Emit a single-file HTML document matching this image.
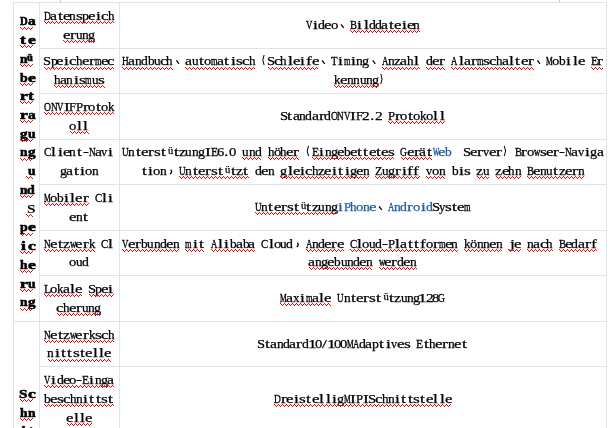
<!DOCTYPE html>
<html><head><meta charset="utf-8"><style>
html,body{margin:0;padding:0;background:#fff}
body{width:614px;height:428px;overflow:hidden;position:relative}
#w{position:absolute;left:0;top:0;width:614px;height:428px;will-change:transform}
.g{position:absolute;background:#dbe5f1}
.L{position:absolute;left:0;top:0;width:614px;height:16px;font-family:"Liberation Serif",serif;font-size:13.5px;line-height:16px;color:#000}
.L i{position:absolute;top:0;font-style:normal;white-space:pre;transform-origin:0 0;-webkit-text-stroke:0.25px currentColor}
.B i{-webkit-text-stroke-width:0.6px}
.B{font-weight:bold;font-size:13.5px}
.bl{color:#245b9c}
.L i.u{font-size:10.53px}
svg{position:absolute;left:0;top:0}
</style></head><body>
<div class="g" style="left:13px;top:2px;width:594px;height:1px"></div>
<div class="g" style="left:39px;top:48px;width:568px;height:1px"></div>
<div class="g" style="left:39px;top:93px;width:568px;height:1px"></div>
<div class="g" style="left:39px;top:139px;width:568px;height:1px"></div>
<div class="g" style="left:39px;top:184px;width:568px;height:1px"></div>
<div class="g" style="left:39px;top:230px;width:568px;height:1px"></div>
<div class="g" style="left:39px;top:275px;width:568px;height:1px"></div>
<div class="g" style="left:39px;top:366px;width:568px;height:1px"></div>
<div class="g" style="left:13px;top:321px;width:594px;height:1px"></div>
<div class="g" style="left:13px;top:2px;width:1px;height:426px"></div>
<div class="g" style="left:39px;top:2px;width:1px;height:426px"></div>
<div class="g" style="left:119px;top:2px;width:1px;height:426px"></div>
<div class="g" style="left:606px;top:2px;width:1px;height:426px"></div>
<div class="g" style="left:60px;top:0px;width:1px;height:2px;background:#c8c8c8"></div>
<div class="g" style="left:559px;top:0px;width:1px;height:2px;background:#c8c8c8"></div>
<div id="w">
<div class="L B" style="top:13px"><i style="left:19.81px;transform:scaleX(0.791)">D</i><i style="left:27.50px;transform:scaleX(1.146)">a</i></div>
<div class="L B" style="top:32px"><i style="left:20.48px;transform:scaleX(1.300)">t</i><i style="left:27.53px;transform:scaleX(1.300)">e</i></div>
<div class="L B" style="top:51px"><i style="left:19.63px;transform:scaleX(1.008)">n</i><i class="u" style="left:26.97px;top:-1.40px">ü</i></div>
<div class="L B" style="top:70px"><i style="left:19.82px;transform:scaleX(1.031)">b</i><i style="left:27.53px;transform:scaleX(1.300)">e</i></div>
<div class="L B" style="top:88px"><i style="left:19.56px;transform:scaleX(1.300)">r</i><i style="left:28.48px;transform:scaleX(1.300)">t</i></div>
<div class="L B" style="top:107px"><i style="left:19.56px;transform:scaleX(1.300)">r</i><i style="left:27.50px;transform:scaleX(1.146)">a</i></div>
<div class="L B" style="top:126px"><i style="left:19.60px;transform:scaleX(1.118)">g</i><i style="left:27.79px;transform:scaleX(1.008)">u</i></div>
<div class="L B" style="top:144px"><i style="left:19.63px;transform:scaleX(1.008)">n</i><i style="left:27.60px;transform:scaleX(1.118)">g</i></div>
<div class="L B" style="top:163px"><i style="left:27.79px;transform:scaleX(1.008)">u</i></div>
<div class="L B" style="top:182px"><i style="left:19.63px;transform:scaleX(1.008)">n</i><i style="left:27.44px;transform:scaleX(1.028)">d</i></div>
<div class="L B" style="top:201px"><i style="left:27.19px;transform:scaleX(1.126);-webkit-text-stroke-width:0.1px">S</i></div>
<div class="L B" style="top:219px"><i style="left:19.82px;transform:scaleX(1.031)">p</i><i style="left:27.53px;transform:scaleX(1.300)">e</i></div>
<div class="L B" style="top:238px"><i style="left:21.00px;transform:scaleX(1.300)">i</i><i style="left:27.52px;transform:scaleX(1.300)">c</i></div>
<div class="L B" style="top:257px"><i style="left:19.66px;transform:scaleX(1.005)">h</i><i style="left:27.53px;transform:scaleX(1.300)">e</i></div>
<div class="L B" style="top:276px"><i style="left:19.56px;transform:scaleX(1.300)">r</i><i style="left:27.79px;transform:scaleX(1.008)">u</i></div>
<div class="L B" style="top:294px"><i style="left:19.63px;transform:scaleX(1.008)">n</i><i style="left:27.60px;transform:scaleX(1.118)">g</i></div>
<div class="L B" style="top:386px"><i style="left:19.19px;transform:scaleX(1.126)">S</i><i style="left:27.52px;transform:scaleX(1.300)">c</i></div>
<div class="L B" style="top:405px"><i style="left:19.66px;transform:scaleX(1.005)">h</i><i style="left:27.63px;transform:scaleX(1.008)">n</i></div>
<div class="L B" style="top:423px"><i style="left:21.00px;transform:scaleX(1.300)">i</i><i style="left:28.48px;transform:scaleX(1.300)">t</i></div>
<div class="L B" style="top:442px"><i style="left:20.48px;transform:scaleX(1.300)">t</i><i style="left:28.03px;transform:scaleX(1.300)">s</i></div>
<div class="L" style="top:8px"><i style="left:44.16px;transform:scaleX(0.703);-webkit-text-stroke-width:0.36px">D</i><i style="left:50.22px;transform:scaleX(1.163)">a</i><i style="left:57.73px;transform:scaleX(1.300)">t</i><i style="left:62.78px;transform:scaleX(1.241)">e</i><i style="left:69.46px;transform:scaleX(0.994)">n</i><i style="left:75.74px;transform:scaleX(1.300)">s</i><i style="left:82.21px;transform:scaleX(1.032)">p</i><i style="left:88.11px;transform:scaleX(1.241)">e</i><i style="left:95.74px;transform:scaleX(1.300)">i</i><i style="left:100.80px;transform:scaleX(1.225)">c</i><i style="left:107.64px;transform:scaleX(0.963)">h</i></div>
<div class="L" style="top:27px"><i style="left:62.78px;transform:scaleX(1.241)">e</i><i style="left:69.85px;transform:scaleX(1.300)">r</i><i style="left:75.93px;transform:scaleX(0.978)">u</i><i style="left:82.13px;transform:scaleX(0.994)">n</i><i style="left:88.16px;transform:scaleX(1.049)">g</i></div>
<div class="L" style="top:53px"><i style="left:43.46px;transform:scaleX(1.075)">S</i><i style="left:50.54px;transform:scaleX(1.032)">p</i><i style="left:56.45px;transform:scaleX(1.241)">e</i><i style="left:64.08px;transform:scaleX(1.300)">i</i><i style="left:69.14px;transform:scaleX(1.225)">c</i><i style="left:75.97px;transform:scaleX(0.963)">h</i><i style="left:81.78px;transform:scaleX(1.241)">e</i><i style="left:88.85px;transform:scaleX(1.300)">r</i><i style="left:94.92px;transform:scaleX(0.620);-webkit-text-stroke-width:0.40px">m</i><i style="left:100.78px;transform:scaleX(1.241)">e</i><i style="left:107.14px;transform:scaleX(1.225)">c</i></div>
<div class="L" style="top:72px"><i style="left:53.81px;transform:scaleX(0.963)">h</i><i style="left:59.71px;transform:scaleX(1.163)">a</i><i style="left:66.29px;transform:scaleX(0.994)">n</i><i style="left:73.58px;transform:scaleX(1.300)">i</i><i style="left:78.91px;transform:scaleX(1.300)">s</i><i style="left:85.42px;transform:scaleX(0.620);-webkit-text-stroke-width:0.40px">m</i><i style="left:91.76px;transform:scaleX(0.978)">u</i><i style="left:97.91px;transform:scaleX(1.300)">s</i></div>
<div class="L" style="top:99px"><i style="left:44.04px;transform:scaleX(0.717);-webkit-text-stroke-width:0.35px">O</i><i style="left:50.50px;transform:scaleX(0.685);-webkit-text-stroke-width:0.36px">N</i><i style="left:57.00px;transform:scaleX(0.656);-webkit-text-stroke-width:0.38px">V</i><i style="left:63.60px;transform:scaleX(1.300)">I</i><i style="left:69.40px;transform:scaleX(0.935)">F</i><i style="left:75.73px;transform:scaleX(0.942)">P</i><i style="left:82.51px;transform:scaleX(1.300)">r</i><i style="left:88.21px;transform:scaleX(1.084)">o</i><i style="left:95.73px;transform:scaleX(1.300)">t</i><i style="left:100.88px;transform:scaleX(1.084)">o</i><i style="left:107.52px;transform:scaleX(0.955)">k</i></div>
<div class="L" style="top:118px"><i style="left:69.21px;transform:scaleX(1.084)">o</i><i style="left:76.76px;transform:scaleX(1.300)">l</i><i style="left:83.10px;transform:scaleX(1.300)">l</i></div>
<div class="L" style="top:144px"><i style="left:43.99px;transform:scaleX(0.805);-webkit-text-stroke-width:0.31px">C</i><i style="left:51.43px;transform:scaleX(1.300)">l</i><i style="left:57.74px;transform:scaleX(1.300)">i</i><i style="left:62.78px;transform:scaleX(1.241)">e</i><i style="left:69.46px;transform:scaleX(0.994)">n</i><i style="left:76.73px;transform:scaleX(1.300)">t</i><i style="left:82.60px;transform:scaleX(1.300)">-</i><i style="left:88.50px;transform:scaleX(0.685);-webkit-text-stroke-width:0.36px">N</i><i style="left:94.55px;transform:scaleX(1.163)">a</i><i style="left:101.43px;transform:scaleX(0.919)">v</i><i style="left:108.41px;transform:scaleX(1.300)">i</i></div>
<div class="L" style="top:163px"><i style="left:59.66px;transform:scaleX(1.049)">g</i><i style="left:66.05px;transform:scaleX(1.163)">a</i><i style="left:73.56px;transform:scaleX(1.300)">t</i><i style="left:79.91px;transform:scaleX(1.300)">i</i><i style="left:85.04px;transform:scaleX(1.084)">o</i><i style="left:91.63px;transform:scaleX(0.994)">n</i></div>
<div class="L" style="top:190px"><i style="left:44.22px;transform:scaleX(0.553);-webkit-text-stroke-width:0.45px">M</i><i style="left:50.21px;transform:scaleX(1.084)">o</i><i style="left:57.10px;transform:scaleX(0.994)">b</i><i style="left:64.08px;transform:scaleX(1.300)">i</i><i style="left:70.43px;transform:scaleX(1.300)">l</i><i style="left:75.45px;transform:scaleX(1.241)">e</i><i style="left:82.51px;transform:scaleX(1.300)">r</i><i style="left:94.65px;transform:scaleX(0.805);-webkit-text-stroke-width:0.31px">C</i><i style="left:102.10px;transform:scaleX(1.300)">l</i><i style="left:108.41px;transform:scaleX(1.300)">i</i></div>
<div class="L" style="top:209px"><i style="left:69.11px;transform:scaleX(1.241)">e</i><i style="left:75.79px;transform:scaleX(0.994)">n</i><i style="left:83.06px;transform:scaleX(1.300)">t</i></div>
<div class="L" style="top:236px"><i style="left:44.17px;transform:scaleX(0.685);-webkit-text-stroke-width:0.36px">N</i><i style="left:50.11px;transform:scaleX(1.241)">e</i><i style="left:57.73px;transform:scaleX(1.300)">t</i><i style="left:63.01px;transform:scaleX(1.180)">z</i><i style="left:69.76px;transform:scaleX(0.641);-webkit-text-stroke-width:0.39px">w</i><i style="left:75.45px;transform:scaleX(1.241)">e</i><i style="left:82.51px;transform:scaleX(1.300)">r</i><i style="left:88.52px;transform:scaleX(0.955)">k</i><i style="left:100.99px;transform:scaleX(0.805);-webkit-text-stroke-width:0.31px">C</i><i style="left:108.43px;transform:scaleX(1.300)">l</i></div>
<div class="L" style="top:254px"><i style="left:69.21px;transform:scaleX(1.084)">o</i><i style="left:75.93px;transform:scaleX(0.978)">u</i><i style="left:81.94px;transform:scaleX(1.017)">d</i></div>
<div class="L" style="top:281px"><i style="left:44.09px;transform:scaleX(0.880);-webkit-text-stroke-width:0.28px">L</i><i style="left:50.21px;transform:scaleX(1.084)">o</i><i style="left:56.85px;transform:scaleX(0.955)">k</i><i style="left:62.88px;transform:scaleX(1.163)">a</i><i style="left:70.43px;transform:scaleX(1.300)">l</i><i style="left:75.45px;transform:scaleX(1.241)">e</i><i style="left:87.80px;transform:scaleX(1.075)">S</i><i style="left:94.88px;transform:scaleX(1.032)">p</i><i style="left:100.78px;transform:scaleX(1.241)">e</i><i style="left:108.41px;transform:scaleX(1.300)">i</i></div>
<div class="L" style="top:300px"><i style="left:56.47px;transform:scaleX(1.225)">c</i><i style="left:63.31px;transform:scaleX(0.963)">h</i><i style="left:69.11px;transform:scaleX(1.241)">e</i><i style="left:76.18px;transform:scaleX(1.300)">r</i><i style="left:82.26px;transform:scaleX(0.978)">u</i><i style="left:88.46px;transform:scaleX(0.994)">n</i><i style="left:94.49px;transform:scaleX(1.049)">g</i></div>
<div class="L" style="top:327px"><i style="left:44.17px;transform:scaleX(0.685);-webkit-text-stroke-width:0.36px">N</i><i style="left:50.11px;transform:scaleX(1.241)">e</i><i style="left:57.73px;transform:scaleX(1.300)">t</i><i style="left:63.01px;transform:scaleX(1.180)">z</i><i style="left:69.76px;transform:scaleX(0.641);-webkit-text-stroke-width:0.39px">w</i><i style="left:75.45px;transform:scaleX(1.241)">e</i><i style="left:82.51px;transform:scaleX(1.300)">r</i><i style="left:88.52px;transform:scaleX(0.955)">k</i><i style="left:94.74px;transform:scaleX(1.300)">s</i><i style="left:100.80px;transform:scaleX(1.225)">c</i><i style="left:107.64px;transform:scaleX(0.963)">h</i></div>
<div class="L" style="top:345px"><i style="left:47.29px;transform:scaleX(0.994)">n</i><i style="left:54.58px;transform:scaleX(1.300)">i</i><i style="left:60.89px;transform:scaleX(1.300)">t</i><i style="left:67.23px;transform:scaleX(1.300)">t</i><i style="left:72.58px;transform:scaleX(1.300)">s</i><i style="left:79.89px;transform:scaleX(1.300)">t</i><i style="left:84.95px;transform:scaleX(1.241)">e</i><i style="left:92.60px;transform:scaleX(1.300)">l</i><i style="left:98.93px;transform:scaleX(1.300)">l</i><i style="left:103.95px;transform:scaleX(1.241)">e</i></div>
<div class="L" style="top:372px"><i style="left:44.33px;transform:scaleX(0.656);-webkit-text-stroke-width:0.38px">V</i><i style="left:51.41px;transform:scaleX(1.300)">i</i><i style="left:56.60px;transform:scaleX(1.017)">d</i><i style="left:62.78px;transform:scaleX(1.241)">e</i><i style="left:69.21px;transform:scaleX(1.084)">o</i><i style="left:76.27px;transform:scaleX(1.300)">-</i><i style="left:82.10px;transform:scaleX(0.863);-webkit-text-stroke-width:0.29px">E</i><i style="left:89.41px;transform:scaleX(1.300)">i</i><i style="left:94.79px;transform:scaleX(0.994)">n</i><i style="left:100.82px;transform:scaleX(1.049)">g</i><i style="left:107.21px;transform:scaleX(1.163)">a</i></div>
<div class="L" style="top:391px"><i style="left:44.43px;transform:scaleX(0.994)">b</i><i style="left:50.11px;transform:scaleX(1.241)">e</i><i style="left:56.74px;transform:scaleX(1.300)">s</i><i style="left:62.80px;transform:scaleX(1.225)">c</i><i style="left:69.64px;transform:scaleX(0.963)">h</i><i style="left:75.79px;transform:scaleX(0.994)">n</i><i style="left:83.08px;transform:scaleX(1.300)">i</i><i style="left:89.39px;transform:scaleX(1.300)">t</i><i style="left:95.73px;transform:scaleX(1.300)">t</i><i style="left:101.08px;transform:scaleX(1.300)">s</i><i style="left:108.39px;transform:scaleX(1.300)">t</i></div>
<div class="L" style="top:410px"><i style="left:65.95px;transform:scaleX(1.241)">e</i><i style="left:73.60px;transform:scaleX(1.300)">l</i><i style="left:79.93px;transform:scaleX(1.300)">l</i><i style="left:84.95px;transform:scaleX(1.241)">e</i></div>
<div class="L" style="top:17px"><i style="left:305.77px;transform:scaleX(0.656);-webkit-text-stroke-width:0.38px">V</i><i style="left:312.85px;transform:scaleX(1.300)">i</i><i style="left:318.04px;transform:scaleX(1.017)">d</i><i style="left:324.21px;transform:scaleX(1.241)">e</i><i style="left:330.64px;transform:scaleX(1.084)">o</i><i style="left:349.90px;transform:scaleX(0.779);-webkit-text-stroke-width:0.32px">B</i><i style="left:357.18px;transform:scaleX(1.300)">i</i><i style="left:363.53px;transform:scaleX(1.300)">l</i><i style="left:368.70px;transform:scaleX(1.017)">d</i><i style="left:375.04px;transform:scaleX(1.017)">d</i><i style="left:381.31px;transform:scaleX(1.163)">a</i><i style="left:388.83px;transform:scaleX(1.300)">t</i><i style="left:393.88px;transform:scaleX(1.241)">e</i><i style="left:401.51px;transform:scaleX(1.300)">i</i><i style="left:406.55px;transform:scaleX(1.241)">e</i><i style="left:413.23px;transform:scaleX(0.994)">n</i></div>
<div class="L" style="top:53px"><i style="left:121.93px;transform:scaleX(0.692);-webkit-text-stroke-width:0.36px">H</i><i style="left:127.98px;transform:scaleX(1.163)">a</i><i style="left:134.56px;transform:scaleX(0.994)">n</i><i style="left:140.71px;transform:scaleX(1.017)">d</i><i style="left:147.53px;transform:scaleX(0.994)">b</i><i style="left:153.69px;transform:scaleX(0.978)">u</i><i style="left:159.57px;transform:scaleX(1.225)">c</i><i style="left:166.41px;transform:scaleX(0.963)">h</i><i style="left:184.98px;transform:scaleX(1.163)">a</i><i style="left:191.69px;transform:scaleX(0.978)">u</i><i style="left:198.83px;transform:scaleX(1.300)">t</i><i style="left:203.98px;transform:scaleX(1.084)">o</i><i style="left:210.69px;transform:scaleX(0.620);-webkit-text-stroke-width:0.40px">m</i><i style="left:216.65px;transform:scaleX(1.163)">a</i><i style="left:224.16px;transform:scaleX(1.300)">t</i><i style="left:230.51px;transform:scaleX(1.300)">i</i><i style="left:235.84px;transform:scaleX(1.300)">s</i><i style="left:241.90px;transform:scaleX(1.225)">c</i><i style="left:248.74px;transform:scaleX(0.963)">h</i><i style="left:266.90px;transform:scaleX(1.075)">S</i><i style="left:273.57px;transform:scaleX(1.225)">c</i><i style="left:280.41px;transform:scaleX(0.963)">h</i><i style="left:287.53px;transform:scaleX(1.300)">l</i><i style="left:292.55px;transform:scaleX(1.241)">e</i><i style="left:300.18px;transform:scaleX(1.300)">i</i><i style="left:305.77px;transform:scaleX(1.300)">f</i><i style="left:311.55px;transform:scaleX(1.241)">e</i><i style="left:331.01px;transform:scaleX(0.797);-webkit-text-stroke-width:0.31px">T</i><i style="left:338.18px;transform:scaleX(1.300)">i</i><i style="left:343.69px;transform:scaleX(0.620);-webkit-text-stroke-width:0.40px">m</i><i style="left:350.84px;transform:scaleX(1.300)">i</i><i style="left:356.23px;transform:scaleX(0.994)">n</i><i style="left:362.26px;transform:scaleX(1.049)">g</i><i style="left:381.78px;transform:scaleX(0.651);-webkit-text-stroke-width:0.38px">A</i><i style="left:387.89px;transform:scaleX(0.994)">n</i><i style="left:394.11px;transform:scaleX(1.180)">z</i><i style="left:400.31px;transform:scaleX(1.163)">a</i><i style="left:407.07px;transform:scaleX(0.963)">h</i><i style="left:414.20px;transform:scaleX(1.300)">l</i><i style="left:425.70px;transform:scaleX(1.017)">d</i><i style="left:431.88px;transform:scaleX(1.241)">e</i><i style="left:438.95px;transform:scaleX(1.300)">r</i><i style="left:451.45px;transform:scaleX(0.651);-webkit-text-stroke-width:0.38px">A</i><i style="left:458.53px;transform:scaleX(1.300)">l</i><i style="left:463.65px;transform:scaleX(1.163)">a</i><i style="left:470.61px;transform:scaleX(1.300)">r</i><i style="left:476.69px;transform:scaleX(0.620);-webkit-text-stroke-width:0.40px">m</i><i style="left:482.84px;transform:scaleX(1.300)">s</i><i style="left:488.90px;transform:scaleX(1.225)">c</i><i style="left:495.74px;transform:scaleX(0.963)">h</i><i style="left:501.65px;transform:scaleX(1.163)">a</i><i style="left:509.19px;transform:scaleX(1.300)">l</i><i style="left:515.49px;transform:scaleX(1.300)">t</i><i style="left:520.54px;transform:scaleX(1.241)">e</i><i style="left:527.61px;transform:scaleX(1.300)">r</i><i style="left:546.32px;transform:scaleX(0.553);-webkit-text-stroke-width:0.45px">M</i><i style="left:552.31px;transform:scaleX(1.084)">o</i><i style="left:559.20px;transform:scaleX(0.994)">b</i><i style="left:566.18px;transform:scaleX(1.300)">i</i><i style="left:572.53px;transform:scaleX(1.300)">l</i><i style="left:577.54px;transform:scaleX(1.241)">e</i><i style="left:590.53px;transform:scaleX(0.863);-webkit-text-stroke-width:0.29px">E</i><i style="left:597.28px;transform:scaleX(1.300)">r</i></div>
<div class="L" style="top:72px"><i style="left:334.12px;transform:scaleX(0.955)">k</i><i style="left:340.05px;transform:scaleX(1.241)">e</i><i style="left:346.73px;transform:scaleX(0.994)">n</i><i style="left:353.06px;transform:scaleX(0.994)">n</i><i style="left:359.53px;transform:scaleX(0.978)">u</i><i style="left:365.73px;transform:scaleX(0.994)">n</i><i style="left:371.76px;transform:scaleX(1.049)">g</i></div>
<div class="L" style="top:108px"><i style="left:279.56px;transform:scaleX(1.075)">S</i><i style="left:287.49px;transform:scaleX(1.300)">t</i><i style="left:292.65px;transform:scaleX(1.163)">a</i><i style="left:299.23px;transform:scaleX(0.994)">n</i><i style="left:305.37px;transform:scaleX(1.017)">d</i><i style="left:311.65px;transform:scaleX(1.163)">a</i><i style="left:318.61px;transform:scaleX(1.300)">r</i><i style="left:324.37px;transform:scaleX(1.017)">d</i><i style="left:330.80px;transform:scaleX(0.717);-webkit-text-stroke-width:0.35px">O</i><i style="left:337.27px;transform:scaleX(0.685);-webkit-text-stroke-width:0.36px">N</i><i style="left:343.77px;transform:scaleX(0.656);-webkit-text-stroke-width:0.38px">V</i><i style="left:350.37px;transform:scaleX(1.300)">I</i><i style="left:356.17px;transform:scaleX(0.935)">F</i><i style="left:362.19px;transform:scaleX(1.146)">2</i><i style="left:370.11px;transform:scaleX(1.300)">.</i><i style="left:374.85px;transform:scaleX(1.146)">2</i><i style="left:387.83px;transform:scaleX(0.942)">P</i><i style="left:394.61px;transform:scaleX(1.300)">r</i><i style="left:400.31px;transform:scaleX(1.084)">o</i><i style="left:407.83px;transform:scaleX(1.300)">t</i><i style="left:412.98px;transform:scaleX(1.084)">o</i><i style="left:419.62px;transform:scaleX(0.955)">k</i><i style="left:425.64px;transform:scaleX(1.084)">o</i><i style="left:433.19px;transform:scaleX(1.300)">l</i><i style="left:439.53px;transform:scaleX(1.300)">l</i></div>
<div class="L" style="top:144px"><i style="left:122.01px;transform:scaleX(0.675);-webkit-text-stroke-width:0.37px">U</i><i style="left:128.23px;transform:scaleX(0.994)">n</i><i style="left:135.50px;transform:scaleX(1.300)">t</i><i style="left:140.55px;transform:scaleX(1.241)">e</i><i style="left:147.61px;transform:scaleX(1.300)">r</i><i style="left:153.51px;transform:scaleX(1.300)">s</i><i style="left:160.83px;transform:scaleX(1.300)">t</i><i class="u" style="left:168.10px;top:-1.40px">ü</i><i style="left:173.50px;transform:scaleX(1.300)">t</i><i style="left:178.77px;transform:scaleX(1.180)">z</i><i style="left:185.36px;transform:scaleX(0.978)">u</i><i style="left:191.56px;transform:scaleX(0.994)">n</i><i style="left:197.59px;transform:scaleX(1.049)">g</i><i style="left:204.70px;transform:scaleX(1.300)">I</i><i style="left:210.53px;transform:scaleX(0.863);-webkit-text-stroke-width:0.29px">E</i><i style="left:216.58px;transform:scaleX(1.075)">6</i><i style="left:224.44px;transform:scaleX(1.300)">.</i><i style="left:229.31px;transform:scaleX(1.084)">0</i><i style="left:242.36px;transform:scaleX(0.978)">u</i><i style="left:248.56px;transform:scaleX(0.994)">n</i><i style="left:254.70px;transform:scaleX(1.017)">d</i><i style="left:267.74px;transform:scaleX(0.963)">h</i><i style="left:273.64px;transform:scaleX(1.084)">ö</i><i style="left:280.41px;transform:scaleX(0.963)">h</i><i style="left:286.21px;transform:scaleX(1.241)">e</i><i style="left:293.28px;transform:scaleX(1.300)">r</i><i style="left:311.86px;transform:scaleX(0.863);-webkit-text-stroke-width:0.29px">E</i><i style="left:319.18px;transform:scaleX(1.300)">i</i><i style="left:324.56px;transform:scaleX(0.994)">n</i><i style="left:330.59px;transform:scaleX(1.049)">g</i><i style="left:336.88px;transform:scaleX(1.241)">e</i><i style="left:343.87px;transform:scaleX(0.994)">b</i><i style="left:349.55px;transform:scaleX(1.241)">e</i><i style="left:357.16px;transform:scaleX(1.300)">t</i><i style="left:363.49px;transform:scaleX(1.300)">t</i><i style="left:368.55px;transform:scaleX(1.241)">e</i><i style="left:376.16px;transform:scaleX(1.300)">t</i><i style="left:381.21px;transform:scaleX(1.241)">e</i><i style="left:387.84px;transform:scaleX(1.300)">s</i><i style="left:400.48px;transform:scaleX(0.707);-webkit-text-stroke-width:0.35px">G</i><i style="left:406.55px;transform:scaleX(1.241)">e</i><i style="left:413.61px;transform:scaleX(1.300)">r</i><i style="left:419.31px;transform:scaleX(1.163)">ä</i><i style="left:426.83px;transform:scaleX(1.300)">t</i><i class="bl" style="left:432.53px;transform:scaleX(0.488);-webkit-text-stroke-width:0.51px">W</i><i class="bl" style="left:438.21px;transform:scaleX(1.241)">e</i><i class="bl" style="left:445.20px;transform:scaleX(0.994)">b</i><i style="left:463.23px;transform:scaleX(1.075)">S</i><i style="left:469.88px;transform:scaleX(1.241)">e</i><i style="left:476.95px;transform:scaleX(1.300)">r</i><i style="left:483.20px;transform:scaleX(0.919)">v</i><i style="left:488.88px;transform:scaleX(1.241)">e</i><i style="left:495.95px;transform:scaleX(1.300)">r</i><i style="left:514.56px;transform:scaleX(0.779);-webkit-text-stroke-width:0.32px">B</i><i style="left:521.28px;transform:scaleX(1.300)">r</i><i style="left:526.98px;transform:scaleX(1.084)">o</i><i style="left:533.86px;transform:scaleX(0.641);-webkit-text-stroke-width:0.39px">w</i><i style="left:539.84px;transform:scaleX(1.300)">s</i><i style="left:545.88px;transform:scaleX(1.241)">e</i><i style="left:552.94px;transform:scaleX(1.300)">r</i><i style="left:559.37px;transform:scaleX(1.300)">-</i><i style="left:565.27px;transform:scaleX(0.685);-webkit-text-stroke-width:0.36px">N</i><i style="left:571.31px;transform:scaleX(1.163)">a</i><i style="left:578.20px;transform:scaleX(0.919)">v</i><i style="left:585.18px;transform:scaleX(1.300)">i</i><i style="left:590.26px;transform:scaleX(1.049)">g</i><i style="left:596.65px;transform:scaleX(1.163)">a</i></div>
<div class="L" style="top:163px"><i style="left:141.83px;transform:scaleX(1.300)">t</i><i style="left:148.18px;transform:scaleX(1.300)">i</i><i style="left:153.31px;transform:scaleX(1.084)">o</i><i style="left:159.89px;transform:scaleX(0.994)">n</i><i style="left:179.01px;transform:scaleX(0.675);-webkit-text-stroke-width:0.37px">U</i><i style="left:185.23px;transform:scaleX(0.994)">n</i><i style="left:192.50px;transform:scaleX(1.300)">t</i><i style="left:197.55px;transform:scaleX(1.241)">e</i><i style="left:204.61px;transform:scaleX(1.300)">r</i><i style="left:210.51px;transform:scaleX(1.300)">s</i><i style="left:217.83px;transform:scaleX(1.300)">t</i><i class="u" style="left:225.10px;top:-1.40px">ü</i><i style="left:230.50px;transform:scaleX(1.300)">t</i><i style="left:235.77px;transform:scaleX(1.180)">z</i><i style="left:243.16px;transform:scaleX(1.300)">t</i><i style="left:254.70px;transform:scaleX(1.017)">d</i><i style="left:260.88px;transform:scaleX(1.241)">e</i><i style="left:267.56px;transform:scaleX(0.994)">n</i><i style="left:279.93px;transform:scaleX(1.049)">g</i><i style="left:287.53px;transform:scaleX(1.300)">l</i><i style="left:292.55px;transform:scaleX(1.241)">e</i><i style="left:300.18px;transform:scaleX(1.300)">i</i><i style="left:305.24px;transform:scaleX(1.225)">c</i><i style="left:312.07px;transform:scaleX(0.963)">h</i><i style="left:318.11px;transform:scaleX(1.180)">z</i><i style="left:324.21px;transform:scaleX(1.241)">e</i><i style="left:331.85px;transform:scaleX(1.300)">i</i><i style="left:338.16px;transform:scaleX(1.300)">t</i><i style="left:344.51px;transform:scaleX(1.300)">i</i><i style="left:349.59px;transform:scaleX(1.049)">g</i><i style="left:355.88px;transform:scaleX(1.241)">e</i><i style="left:362.56px;transform:scaleX(0.994)">n</i><i style="left:374.95px;transform:scaleX(0.904)">Z</i><i style="left:381.69px;transform:scaleX(0.978)">u</i><i style="left:387.59px;transform:scaleX(1.049)">g</i><i style="left:394.61px;transform:scaleX(1.300)">r</i><i style="left:401.51px;transform:scaleX(1.300)">i</i><i style="left:407.11px;transform:scaleX(1.300)">f</i><i style="left:413.44px;transform:scaleX(1.300)">f</i><i style="left:426.20px;transform:scaleX(0.919)">v</i><i style="left:431.98px;transform:scaleX(1.084)">o</i><i style="left:438.56px;transform:scaleX(0.994)">n</i><i style="left:451.53px;transform:scaleX(0.994)">b</i><i style="left:458.51px;transform:scaleX(1.300)">i</i><i style="left:463.84px;transform:scaleX(1.300)">s</i><i style="left:476.44px;transform:scaleX(1.180)">z</i><i style="left:483.03px;transform:scaleX(0.978)">u</i><i style="left:495.44px;transform:scaleX(1.180)">z</i><i style="left:501.54px;transform:scaleX(1.241)">e</i><i style="left:508.41px;transform:scaleX(0.963)">h</i><i style="left:514.56px;transform:scaleX(0.994)">n</i><i style="left:527.23px;transform:scaleX(0.779);-webkit-text-stroke-width:0.32px">B</i><i style="left:533.21px;transform:scaleX(1.241)">e</i><i style="left:539.89px;transform:scaleX(0.994)">n</i><i style="left:546.36px;transform:scaleX(0.978)">u</i><i style="left:553.49px;transform:scaleX(1.300)">t</i><i style="left:558.77px;transform:scaleX(1.180)">z</i><i style="left:564.88px;transform:scaleX(1.241)">e</i><i style="left:571.94px;transform:scaleX(1.300)">r</i><i style="left:577.89px;transform:scaleX(0.994)">n</i></div>
<div class="L" style="top:199px"><i style="left:255.01px;transform:scaleX(0.675);-webkit-text-stroke-width:0.37px">U</i><i style="left:261.23px;transform:scaleX(0.994)">n</i><i style="left:268.49px;transform:scaleX(1.300)">t</i><i style="left:273.55px;transform:scaleX(1.241)">e</i><i style="left:280.61px;transform:scaleX(1.300)">r</i><i style="left:286.51px;transform:scaleX(1.300)">s</i><i style="left:293.83px;transform:scaleX(1.300)">t</i><i class="u" style="left:301.10px;top:-1.40px">ü</i><i style="left:306.49px;transform:scaleX(1.300)">t</i><i style="left:311.77px;transform:scaleX(1.180)">z</i><i style="left:318.36px;transform:scaleX(0.978)">u</i><i style="left:324.56px;transform:scaleX(0.994)">n</i><i style="left:330.59px;transform:scaleX(1.049)">g</i><i class="bl" style="left:338.18px;transform:scaleX(1.300)">i</i><i class="bl" style="left:343.50px;transform:scaleX(0.942)">P</i><i class="bl" style="left:350.07px;transform:scaleX(0.963)">h</i><i class="bl" style="left:355.98px;transform:scaleX(1.084)">o</i><i class="bl" style="left:362.56px;transform:scaleX(0.994)">n</i><i class="bl" style="left:368.55px;transform:scaleX(1.241)">e</i><i class="bl" style="left:388.11px;transform:scaleX(0.651);-webkit-text-stroke-width:0.38px">A</i><i class="bl" style="left:394.23px;transform:scaleX(0.994)">n</i><i class="bl" style="left:400.37px;transform:scaleX(1.017)">d</i><i class="bl" style="left:407.28px;transform:scaleX(1.300)">r</i><i class="bl" style="left:412.98px;transform:scaleX(1.084)">o</i><i class="bl" style="left:420.51px;transform:scaleX(1.300)">i</i><i class="bl" style="left:425.70px;transform:scaleX(1.017)">d</i><i style="left:431.56px;transform:scaleX(1.075)">S</i><i style="left:438.71px;transform:scaleX(0.949)">y</i><i style="left:444.84px;transform:scaleX(1.300)">s</i><i style="left:452.16px;transform:scaleX(1.300)">t</i><i style="left:457.21px;transform:scaleX(1.241)">e</i><i style="left:464.02px;transform:scaleX(0.620);-webkit-text-stroke-width:0.40px">m</i></div>
<div class="L" style="top:236px"><i style="left:122.10px;transform:scaleX(0.656);-webkit-text-stroke-width:0.38px">V</i><i style="left:127.88px;transform:scaleX(1.241)">e</i><i style="left:134.95px;transform:scaleX(1.300)">r</i><i style="left:141.20px;transform:scaleX(0.994)">b</i><i style="left:147.36px;transform:scaleX(0.978)">u</i><i style="left:153.56px;transform:scaleX(0.994)">n</i><i style="left:159.71px;transform:scaleX(1.017)">d</i><i style="left:165.88px;transform:scaleX(1.241)">e</i><i style="left:172.56px;transform:scaleX(0.994)">n</i><i style="left:185.36px;transform:scaleX(0.620);-webkit-text-stroke-width:0.40px">m</i><i style="left:192.51px;transform:scaleX(1.300)">i</i><i style="left:198.83px;transform:scaleX(1.300)">t</i><i style="left:210.78px;transform:scaleX(0.651);-webkit-text-stroke-width:0.38px">A</i><i style="left:217.86px;transform:scaleX(1.300)">l</i><i style="left:224.18px;transform:scaleX(1.300)">i</i><i style="left:229.87px;transform:scaleX(0.994)">b</i><i style="left:235.65px;transform:scaleX(1.163)">a</i><i style="left:242.53px;transform:scaleX(0.994)">b</i><i style="left:248.32px;transform:scaleX(1.163)">a</i><i style="left:261.09px;transform:scaleX(0.805);-webkit-text-stroke-width:0.31px">C</i><i style="left:268.53px;transform:scaleX(1.300)">l</i><i style="left:273.64px;transform:scaleX(1.084)">o</i><i style="left:280.36px;transform:scaleX(0.978)">u</i><i style="left:286.37px;transform:scaleX(1.017)">d</i><i style="left:305.78px;transform:scaleX(0.651);-webkit-text-stroke-width:0.38px">A</i><i style="left:311.89px;transform:scaleX(0.994)">n</i><i style="left:318.04px;transform:scaleX(1.017)">d</i><i style="left:324.21px;transform:scaleX(1.241)">e</i><i style="left:331.28px;transform:scaleX(1.300)">r</i><i style="left:336.88px;transform:scaleX(1.241)">e</i><i style="left:349.75px;transform:scaleX(0.805);-webkit-text-stroke-width:0.31px">C</i><i style="left:357.20px;transform:scaleX(1.300)">l</i><i style="left:362.31px;transform:scaleX(1.084)">o</i><i style="left:369.03px;transform:scaleX(0.978)">u</i><i style="left:375.04px;transform:scaleX(1.017)">d</i><i style="left:382.04px;transform:scaleX(1.300)">-</i><i style="left:387.83px;transform:scaleX(0.942)">P</i><i style="left:395.20px;transform:scaleX(1.300)">l</i><i style="left:400.31px;transform:scaleX(1.163)">a</i><i style="left:407.83px;transform:scaleX(1.300)">t</i><i style="left:414.16px;transform:scaleX(1.300)">t</i><i style="left:419.77px;transform:scaleX(1.300)">f</i><i style="left:425.64px;transform:scaleX(1.084)">o</i><i style="left:432.61px;transform:scaleX(1.300)">r</i><i style="left:438.69px;transform:scaleX(0.620);-webkit-text-stroke-width:0.40px">m</i><i style="left:444.55px;transform:scaleX(1.241)">e</i><i style="left:451.22px;transform:scaleX(0.994)">n</i><i style="left:463.95px;transform:scaleX(0.955)">k</i><i style="left:469.98px;transform:scaleX(1.084)">ö</i><i style="left:476.56px;transform:scaleX(0.994)">n</i><i style="left:482.89px;transform:scaleX(0.994)">n</i><i style="left:488.88px;transform:scaleX(1.241)">e</i><i style="left:495.56px;transform:scaleX(0.994)">n</i><i style="left:510.20px;transform:scaleX(1.300)">j</i><i style="left:514.21px;transform:scaleX(1.241)">e</i><i style="left:527.22px;transform:scaleX(0.994)">n</i><i style="left:533.31px;transform:scaleX(1.163)">a</i><i style="left:539.57px;transform:scaleX(1.225)">c</i><i style="left:546.41px;transform:scaleX(0.963)">h</i><i style="left:558.90px;transform:scaleX(0.779);-webkit-text-stroke-width:0.32px">B</i><i style="left:564.88px;transform:scaleX(1.241)">e</i><i style="left:571.37px;transform:scaleX(1.017)">d</i><i style="left:577.65px;transform:scaleX(1.163)">a</i><i style="left:584.61px;transform:scaleX(1.300)">r</i><i style="left:590.77px;transform:scaleX(1.300)">f</i></div>
<div class="L" style="top:254px"><i style="left:308.48px;transform:scaleX(1.163)">a</i><i style="left:315.06px;transform:scaleX(0.994)">n</i><i style="left:321.09px;transform:scaleX(1.049)">g</i><i style="left:327.38px;transform:scaleX(1.241)">e</i><i style="left:334.37px;transform:scaleX(0.994)">b</i><i style="left:340.53px;transform:scaleX(0.978)">u</i><i style="left:346.73px;transform:scaleX(0.994)">n</i><i style="left:352.87px;transform:scaleX(1.017)">d</i><i style="left:359.05px;transform:scaleX(1.241)">e</i><i style="left:365.73px;transform:scaleX(0.994)">n</i><i style="left:378.69px;transform:scaleX(0.641);-webkit-text-stroke-width:0.39px">w</i><i style="left:384.38px;transform:scaleX(1.241)">e</i><i style="left:391.45px;transform:scaleX(1.300)">r</i><i style="left:397.20px;transform:scaleX(1.017)">d</i><i style="left:403.38px;transform:scaleX(1.241)">e</i><i style="left:410.06px;transform:scaleX(0.994)">n</i></div>
<div class="L" style="top:290px"><i style="left:280.32px;transform:scaleX(0.553);-webkit-text-stroke-width:0.45px">M</i><i style="left:286.32px;transform:scaleX(1.163)">a</i><i style="left:293.09px;transform:scaleX(0.959)">x</i><i style="left:300.18px;transform:scaleX(1.300)">i</i><i style="left:305.69px;transform:scaleX(0.620);-webkit-text-stroke-width:0.40px">m</i><i style="left:311.65px;transform:scaleX(1.163)">a</i><i style="left:319.20px;transform:scaleX(1.300)">l</i><i style="left:324.21px;transform:scaleX(1.241)">e</i><i style="left:337.34px;transform:scaleX(0.675);-webkit-text-stroke-width:0.37px">U</i><i style="left:343.56px;transform:scaleX(0.994)">n</i><i style="left:350.83px;transform:scaleX(1.300)">t</i><i style="left:355.88px;transform:scaleX(1.241)">e</i><i style="left:362.95px;transform:scaleX(1.300)">r</i><i style="left:368.84px;transform:scaleX(1.300)">s</i><i style="left:376.16px;transform:scaleX(1.300)">t</i><i class="u" style="left:383.43px;top:-1.40px">ü</i><i style="left:388.83px;transform:scaleX(1.300)">t</i><i style="left:394.11px;transform:scaleX(1.180)">z</i><i style="left:400.69px;transform:scaleX(0.978)">u</i><i style="left:406.89px;transform:scaleX(0.994)">n</i><i style="left:412.92px;transform:scaleX(1.049)">g</i><i style="left:418.33px;transform:scaleX(1.300)">1</i><i style="left:425.52px;transform:scaleX(1.146)">2</i><i style="left:431.98px;transform:scaleX(1.084)">8</i><i style="left:438.47px;transform:scaleX(0.707);-webkit-text-stroke-width:0.35px">G</i></div>
<div class="L" style="top:336px"><i style="left:257.40px;transform:scaleX(1.075)">S</i><i style="left:265.33px;transform:scaleX(1.300)">t</i><i style="left:270.48px;transform:scaleX(1.163)">a</i><i style="left:277.06px;transform:scaleX(0.994)">n</i><i style="left:283.20px;transform:scaleX(1.017)">d</i><i style="left:289.48px;transform:scaleX(1.163)">a</i><i style="left:296.45px;transform:scaleX(1.300)">r</i><i style="left:302.20px;transform:scaleX(1.017)">d</i><i style="left:307.50px;transform:scaleX(1.300)">1</i><i style="left:314.81px;transform:scaleX(1.084)">0</i><i style="left:322.36px;transform:scaleX(1.300)">/</i><i style="left:326.50px;transform:scaleX(1.300)">1</i><i style="left:333.81px;transform:scaleX(1.084)">0</i><i style="left:340.14px;transform:scaleX(1.084)">0</i><i style="left:346.82px;transform:scaleX(0.553);-webkit-text-stroke-width:0.45px">M</i><i style="left:353.28px;transform:scaleX(0.651);-webkit-text-stroke-width:0.38px">A</i><i style="left:359.20px;transform:scaleX(1.017)">d</i><i style="left:365.48px;transform:scaleX(1.163)">a</i><i style="left:372.14px;transform:scaleX(1.032)">p</i><i style="left:379.33px;transform:scaleX(1.300)">t</i><i style="left:385.68px;transform:scaleX(1.300)">i</i><i style="left:391.37px;transform:scaleX(0.919)">v</i><i style="left:397.05px;transform:scaleX(1.241)">e</i><i style="left:403.68px;transform:scaleX(1.300)">s</i><i style="left:416.36px;transform:scaleX(0.863);-webkit-text-stroke-width:0.29px">E</i><i style="left:423.66px;transform:scaleX(1.300)">t</i><i style="left:429.24px;transform:scaleX(0.963)">h</i><i style="left:435.05px;transform:scaleX(1.241)">e</i><i style="left:442.11px;transform:scaleX(1.300)">r</i><i style="left:448.06px;transform:scaleX(0.994)">n</i><i style="left:454.05px;transform:scaleX(1.241)">e</i><i style="left:461.66px;transform:scaleX(1.300)">t</i></div>
<div class="L" style="top:391px"><i style="left:273.93px;transform:scaleX(0.703);-webkit-text-stroke-width:0.36px">D</i><i style="left:280.61px;transform:scaleX(1.300)">r</i><i style="left:286.21px;transform:scaleX(1.241)">e</i><i style="left:293.85px;transform:scaleX(1.300)">i</i><i style="left:299.18px;transform:scaleX(1.300)">s</i><i style="left:306.49px;transform:scaleX(1.300)">t</i><i style="left:311.55px;transform:scaleX(1.241)">e</i><i style="left:319.20px;transform:scaleX(1.300)">l</i><i style="left:325.53px;transform:scaleX(1.300)">l</i><i style="left:331.85px;transform:scaleX(1.300)">i</i><i style="left:336.93px;transform:scaleX(1.049)">g</i><i style="left:343.65px;transform:scaleX(0.553);-webkit-text-stroke-width:0.45px">M</i><i style="left:350.37px;transform:scaleX(1.300)">I</i><i style="left:356.17px;transform:scaleX(0.942)">P</i><i style="left:363.04px;transform:scaleX(1.300)">I</i><i style="left:368.23px;transform:scaleX(1.075)">S</i><i style="left:374.90px;transform:scaleX(1.225)">c</i><i style="left:381.74px;transform:scaleX(0.963)">h</i><i style="left:387.89px;transform:scaleX(0.994)">n</i><i style="left:395.18px;transform:scaleX(1.300)">i</i><i style="left:401.49px;transform:scaleX(1.300)">t</i><i style="left:407.83px;transform:scaleX(1.300)">t</i><i style="left:413.18px;transform:scaleX(1.300)">s</i><i style="left:420.49px;transform:scaleX(1.300)">t</i><i style="left:425.55px;transform:scaleX(1.241)">e</i><i style="left:433.19px;transform:scaleX(1.300)">l</i><i style="left:439.53px;transform:scaleX(1.300)">l</i><i style="left:444.55px;transform:scaleX(1.241)">e</i></div>
</div>
<svg width="614" height="428" viewBox="0 0 614 428"><defs><pattern id="sq" x="0" y="0" width="4" height="3" patternUnits="userSpaceOnUse"><rect x="0" y="0" width="1" height="1" fill="#f00"/><rect x="1" y="1" width="1" height="1" fill="#f00"/><rect x="2" y="2" width="1" height="1" fill="#f00"/><rect x="3" y="1" width="1" height="1" fill="#f00"/></pattern></defs>
<rect transform="translate(20 27)" width="13" height="3" fill="url(#sq)"/>
<rect transform="translate(20 45)" width="13" height="3" fill="url(#sq)"/>
<rect transform="translate(20 64)" width="13" height="3" fill="url(#sq)"/>
<rect transform="translate(20 83)" width="13" height="3" fill="url(#sq)"/>
<rect transform="translate(20 101)" width="13" height="3" fill="url(#sq)"/>
<rect transform="translate(20 120)" width="13" height="3" fill="url(#sq)"/>
<rect transform="translate(20 139)" width="13" height="3" fill="url(#sq)"/>
<rect transform="translate(20 158)" width="13" height="3" fill="url(#sq)"/>
<rect transform="translate(26 176)" width="7" height="3" fill="url(#sq)"/>
<rect transform="translate(20 195)" width="13" height="3" fill="url(#sq)"/>
<rect transform="translate(26 214)" width="7" height="3" fill="url(#sq)"/>
<rect transform="translate(20 233)" width="13" height="3" fill="url(#sq)"/>
<rect transform="translate(20 251)" width="13" height="3" fill="url(#sq)"/>
<rect transform="translate(20 270)" width="13" height="3" fill="url(#sq)"/>
<rect transform="translate(20 289)" width="13" height="3" fill="url(#sq)"/>
<rect transform="translate(20 308)" width="13" height="3" fill="url(#sq)"/>
<rect transform="translate(20 399)" width="13" height="3" fill="url(#sq)"/>
<rect transform="translate(20 418)" width="13" height="3" fill="url(#sq)"/>
<rect transform="translate(20 436)" width="13" height="3" fill="url(#sq)"/>
<rect transform="translate(20 455)" width="13" height="3" fill="url(#sq)"/>
<rect transform="translate(44 21)" width="70" height="3" fill="url(#sq)"/>
<rect transform="translate(63 40)" width="32" height="3" fill="url(#sq)"/>
<rect transform="translate(44 67)" width="70" height="3" fill="url(#sq)"/>
<rect transform="translate(54 85)" width="51" height="3" fill="url(#sq)"/>
<rect transform="translate(44 112)" width="70" height="3" fill="url(#sq)"/>
<rect transform="translate(70 131)" width="19" height="3" fill="url(#sq)"/>
<rect transform="translate(44 203)" width="45" height="3" fill="url(#sq)"/>
<rect transform="translate(44 249)" width="51" height="3" fill="url(#sq)"/>
<rect transform="translate(44 294)" width="38" height="3" fill="url(#sq)"/>
<rect transform="translate(89 294)" width="25" height="3" fill="url(#sq)"/>
<rect transform="translate(57 313)" width="44" height="3" fill="url(#sq)"/>
<rect transform="translate(44 340)" width="70" height="3" fill="url(#sq)"/>
<rect transform="translate(48 359)" width="63" height="3" fill="url(#sq)"/>
<rect transform="translate(44 385)" width="70" height="3" fill="url(#sq)"/>
<rect transform="translate(44 404)" width="70" height="3" fill="url(#sq)"/>
<rect transform="translate(67 423)" width="25" height="3" fill="url(#sq)"/>
<path d="M341.1 24.4 l2.6 3.4" stroke="#000" stroke-width="1.3" fill="none"/>
<rect transform="translate(350 30)" width="70" height="3" fill="url(#sq)"/>
<path d="M176.4 60.4 l2.6 3.4" stroke="#000" stroke-width="1.3" fill="none"/>
<path d="M264.1 55.0 q-2.6 5 0 10" stroke="#000" stroke-width="1" fill="none"/>
<path d="M322.1 60.4 l2.6 3.4" stroke="#000" stroke-width="1.3" fill="none"/>
<path d="M372.7 60.4 l2.6 3.4" stroke="#000" stroke-width="1.3" fill="none"/>
<path d="M537.4 60.4 l2.6 3.4" stroke="#000" stroke-width="1.3" fill="none"/>
<rect transform="translate(122 67)" width="51" height="3" fill="url(#sq)"/>
<rect transform="translate(185 67)" width="70" height="3" fill="url(#sq)"/>
<rect transform="translate(268 67)" width="50" height="3" fill="url(#sq)"/>
<rect transform="translate(382 67)" width="38" height="3" fill="url(#sq)"/>
<rect transform="translate(426 67)" width="19" height="3" fill="url(#sq)"/>
<rect transform="translate(451 67)" width="83" height="3" fill="url(#sq)"/>
<rect transform="translate(591 67)" width="12" height="3" fill="url(#sq)"/>
<path d="M380.8 74.0 q2.6 5 0 10" stroke="#000" stroke-width="1" fill="none"/>
<rect transform="translate(334 85)" width="45" height="3" fill="url(#sq)"/>
<rect transform="translate(388 121)" width="57" height="3" fill="url(#sq)"/>
<path d="M308.5 146.0 q-2.6 5 0 10" stroke="#000" stroke-width="1" fill="none"/>
<path d="M504.3 146.0 q2.6 5 0 10" stroke="#000" stroke-width="1" fill="none"/>
<rect transform="translate(242 157)" width="19" height="3" fill="url(#sq)"/>
<rect transform="translate(268 157)" width="31" height="3" fill="url(#sq)"/>
<rect transform="translate(312 157)" width="82" height="3" fill="url(#sq)"/>
<rect transform="translate(401 157)" width="31" height="3" fill="url(#sq)"/>
<path d="M170.5 170.2 c1.2 0 1.3 1.4 0.9 2.2 l-1.2 1.6" stroke="#000" stroke-width="1.3" fill="none"/>
<rect transform="translate(179 176)" width="70" height="3" fill="url(#sq)"/>
<rect transform="translate(280 176)" width="89" height="3" fill="url(#sq)"/>
<rect transform="translate(375 176)" width="45" height="3" fill="url(#sq)"/>
<rect transform="translate(426 176)" width="19" height="3" fill="url(#sq)"/>
<rect transform="translate(477 176)" width="12" height="3" fill="url(#sq)"/>
<rect transform="translate(496 176)" width="25" height="3" fill="url(#sq)"/>
<rect transform="translate(527 176)" width="57" height="3" fill="url(#sq)"/>
<path d="M379.1 206.4 l2.6 3.4" stroke="#000" stroke-width="1.3" fill="none"/>
<rect transform="translate(255 212)" width="82" height="3" fill="url(#sq)"/>
<path d="M297.1 243.2 c1.2 0 1.3 1.4 0.9 2.2 l-1.2 1.6" stroke="#000" stroke-width="1.3" fill="none"/>
<rect transform="translate(122 249)" width="57" height="3" fill="url(#sq)"/>
<rect transform="translate(185 249)" width="19" height="3" fill="url(#sq)"/>
<rect transform="translate(211 249)" width="44" height="3" fill="url(#sq)"/>
<rect transform="translate(306 249)" width="38" height="3" fill="url(#sq)"/>
<rect transform="translate(350 249)" width="108" height="3" fill="url(#sq)"/>
<rect transform="translate(464 249)" width="38" height="3" fill="url(#sq)"/>
<rect transform="translate(508 249)" width="13" height="3" fill="url(#sq)"/>
<rect transform="translate(527 249)" width="26" height="3" fill="url(#sq)"/>
<rect transform="translate(559 249)" width="38" height="3" fill="url(#sq)"/>
<rect transform="translate(309 267)" width="63" height="3" fill="url(#sq)"/>
<rect transform="translate(379 267)" width="38" height="3" fill="url(#sq)"/>
<rect transform="translate(280 303)" width="51" height="3" fill="url(#sq)"/>
<rect transform="translate(274 404)" width="177" height="3" fill="url(#sq)"/>
</svg>
</body></html>
